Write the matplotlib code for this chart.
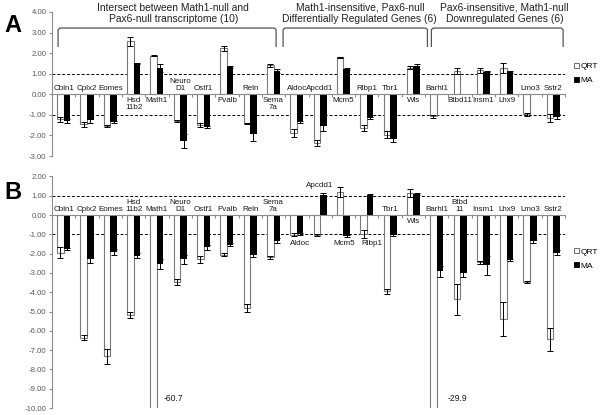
import numpy as np
import matplotlib
matplotlib.use('Agg')
import matplotlib.pyplot as plt
from matplotlib.patches import Patch, PathPatch
from matplotlib.path import Path
from matplotlib.ticker import FormatStrFormatter, MultipleLocator

plt.rcParams['font.family'] = ['Liberation Sans', 'DejaVu Sans']

genes = ['Cbln1', 'Cplx2', 'Eomes', 'Hsd11b2', 'Math1', 'NeuroD1', 'Ostf1', 'Pvalb',
         'Reln', 'Sema7a', 'Aldoc', 'Apcdd1', 'Mcm5', 'Rlbp1', 'Tbr1', 'Wls',
         'Barhl1', 'Btbd11', 'Insm1', 'Lhx9', 'Lmo3', 'Sstr2']
labels_a = ['Cbln1', 'Cplx2', 'Eomes', 'Hsd\n11b2', 'Math1', 'Neuro\nD1', 'Ostf1', 'Pvalb',
            'Reln', 'Sema\n7a', 'Aldoc', 'Apcdd1', 'Mcm5', 'Rlbp1', 'Tbr1', 'Wls',
            'Barhl1', 'Btbd11', 'Insm1', 'Lhx9', 'Lmo3', 'Sstr2']
labels_b = ['Cbln1', 'Cplx2', 'Eomes', 'Hsd\n11b2', 'Math1', 'Neuro\nD1', 'Ostf1', 'Pvalb',
            'Reln', 'Sema\n7a', 'Aldoc', 'Apcdd1', 'Mcm5', 'Rlbp1', 'Tbr1', 'Wls',
            'Barhl1', 'Btbd\n11', 'Insm1', 'Lhx9', 'Lmo3', 'Sstr2']

# panel A: fold change (QRT = quantitative RT-PCR, MA = microarray)
a_qrt = [-1.22, -1.45, -1.53, 2.57, 1.87, -1.30, -1.48, 2.24, -1.42, 1.42, -1.90,
         -2.38, 1.80, -1.65, -1.96, 1.30, -1.07, 1.15, 1.17, 1.27, -0.98, -1.15]
a_qrt_err = [0.12, 0.12, 0.05, 0.22, 0.03, 0.06, 0.10, 0.12, 0.03, 0.07, 0.20,
             0.15, 0.03, 0.15, 0.18, 0.07, 0.07, 0.15, 0.12, 0.25, 0.07, 0.20]
a_ma = [-1.30, -1.27, -1.35, 1.50, 1.27, -2.27, -1.57, 1.33, -1.93, 1.15, -1.37,
        -1.56, 1.22, -1.17, -2.17, 1.37, None, None, 1.10, 1.07, None, -1.08]
a_ma_err = [0.08, 0.12, 0.05, 0.03, 0.18, 0.33, 0.05, 0.05, 0.35, 0.10, 0.05,
            0.22, 0.05, 0.05, 0.15, 0.12, None, None, 0.03, 0.04, None, 0.12]

# panel B
b_qrt = [-1.95, -6.35, -7.32, -5.17, -60.7, -3.48, -2.30, -2.05, -4.80, -2.20, -1.03,
         -1.05, 1.20, -1.00, -3.95, 1.15, -29.9, -4.37, -2.45, -5.40, -3.48, -6.44]
b_qrt_err = [0.28, 0.12, 0.38, 0.15, None, 0.15, 0.20, 0.08, 0.20, 0.08, 0.08,
             0.06, 0.25, 0.20, 0.12, 0.20, None, 0.82, 0.08, 0.88, 0.04, 0.60]
b_ma = [-1.75, -2.30, -1.90, -2.10, -2.55, -2.30, -1.67, -1.55, -2.08, -1.33, -1.00,
        1.02, -1.10, 1.02, -1.05, 1.07, -2.92, -2.98, -2.60, -2.33, -1.33, -1.95]
b_ma_err = [0.05, 0.20, 0.15, 0.12, 0.25, 0.22, 0.12, 0.08, 0.08, 0.12, 0.05,
            0.12, 0.05, 0.05, 0.05, 0.05, 0.30, 0.25, 0.50, 0.06, 0.12, 0.12]

groups = ['Intersect between Math1-null and\nPax6-null transcriptome (10)',
          'Math1-insensitive, Pax6-null\nDifferentially Regulated Genes (6)',
          'Pax6-insensitive, Math1-null\nDownregulated Genes (6)']

W, H = 603.0, 415.0
fig = plt.figure(figsize=(W / 100, H / 100), dpi=100)


def px_axes(x0, x1, ytop, ybot):
    return fig.add_axes([x0 / W, 1 - ybot / H, (x1 - x0) / W, (ybot - ytop) / H])


def arr(v):
    return np.array([np.nan if e is None else e for e in v], dtype=float)


def draw_panel(ax, qrt, qrt_err, ma, ma_err, ylim):
    x = np.arange(len(genes))
    w = 0.28
    qrt, qrt_err, ma, ma_err = arr(qrt), arr(qrt_err), arr(ma), arr(ma_err)
    ax.bar(x - w / 2, qrt, w, color='white', edgecolor='#7a7a7a', linewidth=0.8, zorder=2)
    m = ~np.isnan(ma)
    ax.bar(x[m] + w / 2, ma[m], w, color='black', linewidth=0, zorder=2)
    e = ~np.isnan(qrt_err)
    ax.errorbar(x[e] - w / 2, qrt[e], yerr=qrt_err[e], fmt='none', ecolor='black',
                elinewidth=0.7, capsize=2, capthick=0.7, zorder=3)
    e = ~np.isnan(ma_err)
    ax.errorbar(x[e] + w / 2, ma[e], yerr=ma_err[e], fmt='none', ecolor='black',
                elinewidth=0.7, capsize=2, capthick=0.7, zorder=3)
    for yy in (1, -1):
        ax.axhline(yy, color='black', ls=(0, (3, 2)), lw=0.7, zorder=1)
    ax.set_xlim(-0.5, len(genes) - 0.5)
    ax.set_ylim(*ylim)
    for s in ('top', 'right'):
        ax.spines[s].set_visible(False)
    ax.spines['bottom'].set_position(('data', 0))
    ax.spines['left'].set_color('#8c8c8c')
    ax.spines['bottom'].set_color('#8c8c8c')
    ax.set_xticks(np.arange(len(genes) + 1) - 0.5)
    ax.set_xticklabels([])
    ax.tick_params(axis='x', length=2, color='#8c8c8c', direction='out')
    ax.yaxis.set_major_locator(MultipleLocator(1))
    ax.yaxis.set_major_formatter(FormatStrFormatter('%.2f'))
    ax.tick_params(axis='y', labelsize=5.6, labelcolor='#5a5a5a', length=2.5,
                   pad=1.5, color='#8c8c8c')
    ax.patch.set_visible(False)


def bracket(ax, x0, x1, ytop, ybot, r=0.12, ry=0.12):
    verts = [(x0, ybot), (x0, ytop - ry), (x0, ytop), (x0 + r, ytop),
             (x1 - r, ytop), (x1, ytop), (x1, ytop - ry), (x1, ybot)]
    codes = [Path.MOVETO, Path.LINETO, Path.CURVE3, Path.CURVE3,
             Path.LINETO, Path.CURVE3, Path.CURVE3, Path.LINETO]
    ax.add_patch(PathPatch(Path(verts, codes), fill=False, edgecolor='#555555',
                           lw=0.9, clip_on=False))


def legend(ax, ycen):
    handles = [Patch(facecolor='white', edgecolor='#555555', lw=0.6, label='QRT'),
               Patch(facecolor='black', edgecolor='black', lw=0.6, label='MA')]
    ax.legend(handles=handles, loc='center left', bbox_to_anchor=(574 / W, 1 - ycen / H),
              bbox_transform=fig.transFigure, frameon=False, fontsize=6.0,
              handlelength=0.55, handleheight=0.55, handletextpad=0.2,
              labelspacing=0.8, borderpad=0, borderaxespad=0)


lab_kw = dict(ha='center', fontsize=5.8, linespacing=0.95, color='#1a1a1a', zorder=4)

# ---- panel A
axA = px_axes(52, 565, 12, 156)
draw_panel(axA, a_qrt, a_qrt_err, a_ma, a_ma_err, (-3, 4))
for i, lab in enumerate(labels_a):
    if a_qrt[i] < 0:
        axA.text(i, 0.1, lab, va='bottom', **lab_kw)
    else:
        axA.text(i, -0.12, lab, va='top', **lab_kw)

bx = [(-0.24, 9.11), (9.41, 15.6), (15.77, 21.42)]
tx = [4.7, 12.7, 18.9]
for (x0, x1), t, txt in zip(bx, tx, groups):
    bracket(axA, x0, x1, 3.22, 2.3)
    axA.text(t, 3.93, txt, ha='center', va='center', fontsize=7.4,
             linespacing=1.15, color='#222222', clip_on=False)
legend(axA, 73.5)

# ---- panel B
axB = px_axes(52, 565, 176.4, 408)
draw_panel(axB, b_qrt, b_qrt_err, b_ma, b_ma_err, (-10, 2))
special = {'Aldoc': (-1.5, 0.15), 'Mcm5': (-1.5, 0.05), 'Rlbp1': (-1.5, 0.2),
           'Wls': (-0.36, 0.0), 'Apcdd1': (1.55, 0.0)}
for i, lab in enumerate(labels_b):
    if genes[i] in special:
        yy, dx = special[genes[i]]
        axB.text(i + dx, yy, lab, va='center', **lab_kw)
    else:
        axB.text(i, 0.12, lab, va='bottom', **lab_kw)
axB.text(4.28, -9.5, '%.1f' % b_qrt[4], ha='left', va='center', fontsize=6.2, color='#1a1a1a')
axB.text(16.45, -9.5, '%.1f' % b_qrt[16], ha='left', va='center', fontsize=6.2, color='#1a1a1a')
legend(axB, 259)

fig.text(12.5 / W, 1 - 25 / H, 'A', ha='center', va='center', fontsize=17, fontweight='bold')
fig.text(12.5 / W, 1 - 192 / H, 'B', ha='center', va='center', fontsize=17, fontweight='bold')

fig.savefig('out.png', dpi=100)
